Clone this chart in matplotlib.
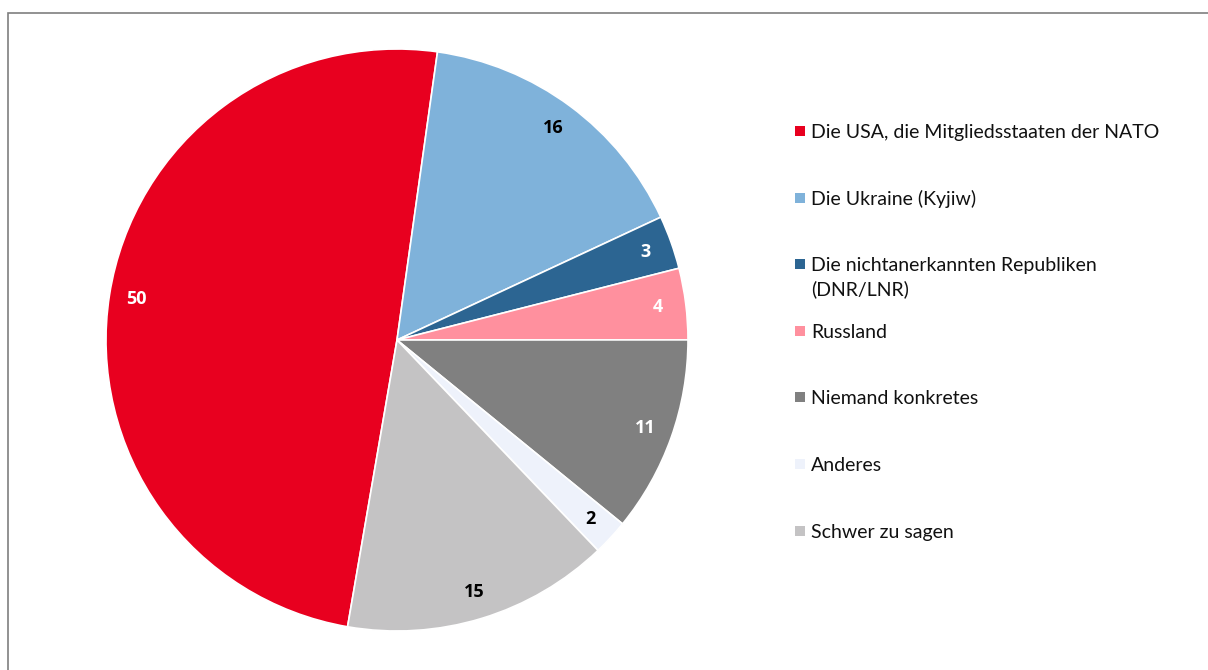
import matplotlib.pyplot as plt
from matplotlib.patches import Rectangle

categories = [
    'Die USA, die Mitgliedsstaaten der NATO',
    'Die Ukraine (Kyjiw)',
    'Die nichtanerkannten Republiken\n(DNR/LNR)',
    'Russland',
    'Niemand konkretes',
    'Anderes',
    'Schwer zu sagen',
]
values = [50, 16, 3, 4, 11, 2, 15]
colors = ['#E8001F', '#7FB2DA', '#2C6592', '#FF909E', '#808080', '#EEF2FB', '#C4C3C4']
label_colors = ['white', 'black', 'white', 'white', 'white', 'black', 'black']

plt.rcParams['font.family'] = ['Lato', 'DejaVu Sans']

W, H = 1208, 670
fig = plt.figure(figsize=(W / 100, H / 100), dpi=100)

# outer frame (partly cut off at right/bottom)
fig.patches.append(Rectangle((8 / W, -0.1), 1.2, (H - 13) / H + 0.1,
                             transform=fig.transFigure, fill=False,
                             edgecolor='#7f7f7f', linewidth=1.2))

cx, cy, r = 397, 340, 291
ax = fig.add_axes([(cx - r) / W, (H - cy - r) / H, 2 * r / W, 2 * r / H])
total = sum(values)
start = 90 - (sum(values[1:]) / total * 360 + 8)
wedges, texts, autotexts = ax.pie(
    values, colors=colors, startangle=start, counterclock=False,
    autopct=lambda p: f'{p * total / 100:.0f}', pctdistance=0.905,
    wedgeprops=dict(edgecolor='white', linewidth=1.2),
    textprops=dict(fontsize=13, fontweight='bold', family='Open Sans'))
for t, c in zip(autotexts, label_colors):
    t.set_color(c)
ax.set_xlim(-1, 1)
ax.set_ylim(-1, 1)

# legend
for i, (lab, col) in enumerate(zip(categories, colors)):
    y = 131 + i * 66.6
    fig.patches.append(Rectangle((795 / W, (H - y - 5) / H), 10 / W, 10 / H,
                                 transform=fig.transFigure, facecolor=col,
                                 edgecolor='none'))
    for k, line in enumerate(lab.split('\n')):
        fig.text(811 / W, (H - y - 7 - 24 * k) / H, line, fontsize=14,
                 va='baseline', ha='left', color='#111111')

fig.savefig('out.png', dpi=100)
